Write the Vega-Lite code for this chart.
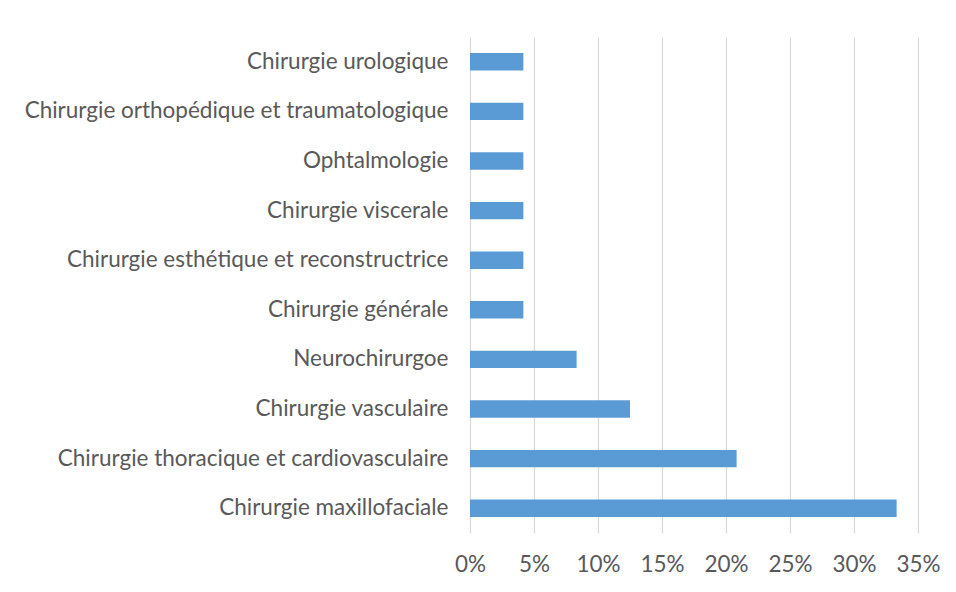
{
  "$schema": "https://vega.github.io/schema/vega-lite/v6.json",
  "autosize": {"type": "none"},
  "width": 448,
  "height": 496,
  "padding": {"left": 470, "top": 37, "right": 38, "bottom": 59},
  "background": "white",
  "config": {"view": {"stroke": null}, "font": "Lato"},
  "data": {"values": [
    {"specialite": "Chirurgie urologique", "part": 0.0417},
    {"specialite": "Chirurgie orthopédique et traumatologique", "part": 0.0417},
    {"specialite": "Ophtalmologie", "part": 0.0417},
    {"specialite": "Chirurgie viscerale", "part": 0.0417},
    {"specialite": "Chirurgie esthétique et reconstructrice", "part": 0.0417},
    {"specialite": "Chirurgie générale", "part": 0.0417},
    {"specialite": "Neurochirurgoe", "part": 0.0833},
    {"specialite": "Chirurgie vasculaire", "part": 0.125},
    {"specialite": "Chirurgie thoracique et cardiovasculaire", "part": 0.2083},
    {"specialite": "Chirurgie maxillofaciale", "part": 0.3333}
  ]},
  "mark": {"type": "bar", "color": "#5B9BD5"},
  "encoding": {
    "y": {
      "field": "specialite", "type": "nominal", "sort": null,
      "scale": {"paddingInner": 0.65, "paddingOuter": 0.325},
      "axis": {"title": null, "domain": false, "ticks": false, "labelPadding": 22,
               "labelFontSize": 22.5, "labelColor": "#595959", "labelLimit": 0}
    },
    "x": {
      "field": "part", "type": "quantitative",
      "scale": {"domain": [0, 0.35], "nice": false},
      "axis": {"title": null, "format": ".0%", "values": [0, 0.05, 0.1, 0.15, 0.2, 0.25, 0.3, 0.35],
               "domain": false, "ticks": false, "labelPadding": 20, "labelFontSize": 22.5, "labelFlush": false,
               "labelColor": "#595959", "gridColor": "#D9D9D9", "gridWidth": 1.2}
    }
  }
}
